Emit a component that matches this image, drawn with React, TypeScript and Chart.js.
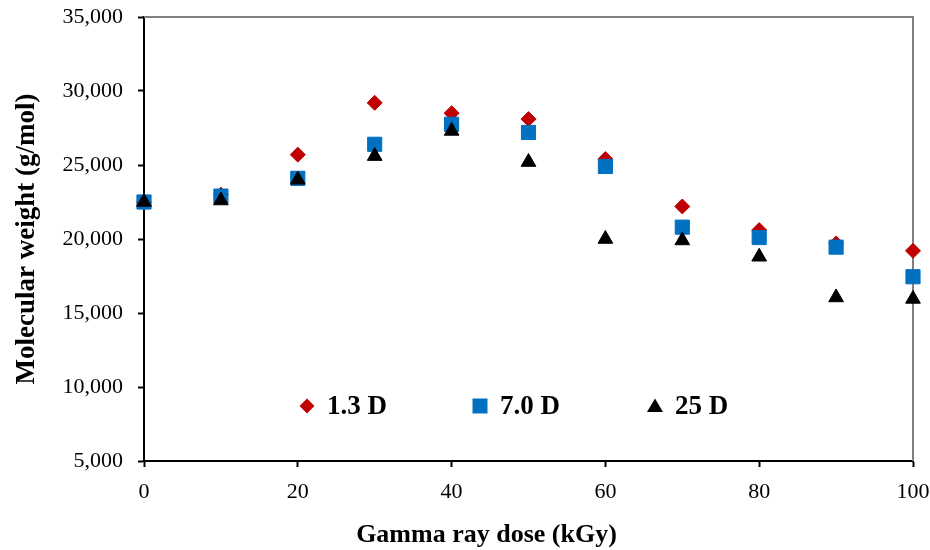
import { useEffect, useRef } from "react";
import { Chart, registerables } from "chart.js";

Chart.register(...registerables);

// ---- data ----
const doses = [0, 10, 20, 30, 40, 50, 60, 70, 80, 90, 100];
const mw13D = [22500, 23000, 25700, 29200, 28500, 28100, 25400, 22200, 20600, 19700, 19200];
const mw70D = [22500, 22900, 24100, 26400, 27750, 27200, 24900, 20800, 20100, 19450, 17450];
const mw25D = [22500, 22600, 24000, 25600, 27300, 25200, 20000, 19900, 18800, 16050, 15950];
const seriesLabels = ["1.3 D", "7.0 D", "25 D"];
const xTickValues = [0, 20, 40, 60, 80, 100];
const yTickValues = [5000, 10000, 15000, 20000, 25000, 30000, 35000];
const xTitle = "Gamma ray dose (kGy)";
const yTitle = "Molecular weight (g/mol)";

const FONT = "'Liberation Serif', 'Times New Roman', serif";
const RED = "#C00000";
const BLUE = "#0070C0";
const BLACK = "#000000";

function drawMarker(ctx: CanvasRenderingContext2D, style: string, x: number, y: number, color: string) {
  ctx.save();
  ctx.fillStyle = color;
  ctx.beginPath();
  if (style === "rectRot") {
    const r = 7.5;
    ctx.moveTo(x - r, y);
    ctx.lineTo(x, y - r);
    ctx.lineTo(x + r, y);
    ctx.lineTo(x, y + r);
  } else if (style === "rect") {
    const h = 7.5;
    ctx.rect(x - h, y - h, 2 * h, 2 * h);
  } else {
    const w = 8;
    ctx.moveTo(x, y - 7.5);
    ctx.lineTo(x + w, y + 6);
    ctx.lineTo(x - w, y + 6);
  }
  ctx.closePath();
  ctx.fill();
  ctx.restore();
}

const framePlugin = {
  id: "frame",
  beforeDatasetsDraw(chart: any) {
    const { ctx, chartArea } = chart;
    const { left, top, right, bottom } = chartArea;
    ctx.save();
    ctx.strokeStyle = "#7f7f7f";
    ctx.lineWidth = 2;
    ctx.beginPath();
    ctx.moveTo(left, top);
    ctx.lineTo(right, top);
    ctx.lineTo(right, bottom);
    ctx.stroke();
    ctx.restore();
  },
};

// x-axis title, set a little left of the plot centre as in the reference
const xTitlePlugin = {
  id: "xTitle",
  afterDraw(chart: any) {
    const { ctx, chartArea } = chart;
    const cx = (chartArea.left + chartArea.right) / 2 - 42;
    ctx.save();
    ctx.fillStyle = "#000";
    ctx.font = `bold 26px ${FONT}`;
    ctx.textAlign = "center";
    ctx.textBaseline = "alphabetic";
    ctx.fillText(xTitle, cx, chart.height - 8);
    ctx.restore();
  },
};

const legendPlugin = {
  id: "innerLegend",
  afterDatasetsDraw(chart: any) {
    const { ctx, chartArea } = chart;
    const offsets = [163, 336, 511];
    const y = chartArea.top + 389;
    chart.data.datasets.forEach((ds: any, i: number) => {
      const x = chartArea.left + offsets[i];
      drawMarker(ctx, ds.pointStyle, x, y, ds.backgroundColor);
      ctx.save();
      ctx.fillStyle = "#000";
      ctx.font = `bold 27px ${FONT}`;
      ctx.textBaseline = "middle";
      ctx.textAlign = "left";
      ctx.fillText(ds.label, x + 20, y + 1);
      ctx.restore();
    });
  },
};

export default function App() {
  const canvasRef = useRef<HTMLCanvasElement | null>(null);

  useEffect(() => {
    if (!canvasRef.current) return;
    const mk = (vals: number[]) => doses.map((d, i) => ({ x: d, y: vals[i] }));
    const chart = new Chart(canvasRef.current, {
      type: "scatter",
      data: {
        datasets: [
          {
            label: seriesLabels[0],
            data: mk(mw13D),
            pointStyle: "rectRot",
            backgroundColor: RED,
            borderColor: RED,
            borderWidth: 1,
            pointRadius: 7.5,
            order: 3,
            clip: false,
          },
          {
            label: seriesLabels[1],
            data: mk(mw70D),
            pointStyle: "rect",
            backgroundColor: BLUE,
            borderColor: BLUE,
            borderWidth: 1,
            pointRadius: 10,
            order: 2,
            clip: false,
          },
          {
            label: seriesLabels[2],
            data: mk(mw25D),
            pointStyle: "triangle",
            backgroundColor: BLACK,
            borderColor: BLACK,
            borderWidth: 1,
            pointRadius: 8.5,
            order: 1,
            clip: false,
          },
        ] as any,
      },
      options: {
        responsive: false,
        animation: false,
        devicePixelRatio: 1,
        layout: { autoPadding: false, padding: { top: 17, right: 17, left: 0, bottom: 0 } },
        plugins: {
          legend: { display: false },
          tooltip: { enabled: false },
        },
        scales: {
          x: {
            type: "linear",
            min: 0,
            max: 100,
            afterBuildTicks: (scale: any) => {
              scale.ticks = xTickValues.map((v) => ({ value: v }));
            },
            afterFit: (scale: any) => {
              scale.height = 89;
              scale.paddingLeft = 0;
              scale.paddingRight = 0;
            },
            grid: {
              drawOnChartArea: false,
              drawTicks: true,
              tickLength: 6,
              tickColor: "#000",
              tickWidth: 2,
            },
            border: { color: "#000", width: 2 },
            ticks: {
              color: "#000",
              font: { family: FONT, size: 22 },
              padding: 12,
              maxRotation: 0,
            },
            title: { display: false },
          },
          y: {
            type: "linear",
            min: 5000,
            max: 35000,
            afterBuildTicks: (scale: any) => {
              scale.ticks = yTickValues.map((v) => ({ value: v }));
            },
            afterFit: (scale: any) => {
              scale.width = 144;
              scale.paddingTop = 0;
              scale.paddingBottom = 0;
            },
            grid: {
              drawOnChartArea: false,
              drawTicks: true,
              tickLength: 6,
              tickColor: "#000",
              tickWidth: 2,
            },
            border: { color: "#000", width: 2 },
            ticks: {
              color: "#000",
              font: { family: FONT, size: 22 },
              padding: 15,
              callback: (v: any) => Number(v).toLocaleString("en-US"),
            },
            title: {
              display: true,
              text: yTitle,
              color: "#000",
              font: { family: FONT, size: 27, weight: "bold" },
              padding: { top: 11, bottom: 0 },
            },
          },
        },
      },
      plugins: [framePlugin, legendPlugin, xTitlePlugin],
    });
    return () => chart.destroy();
  }, []);

  return (
    <div style={{ position: "fixed", left: 0, top: 0, width: 930, height: 550, background: "#fff" }}>
      <canvas ref={canvasRef} width={930} height={550} style={{ width: 930, height: 550 }} />
    </div>
  );
}
